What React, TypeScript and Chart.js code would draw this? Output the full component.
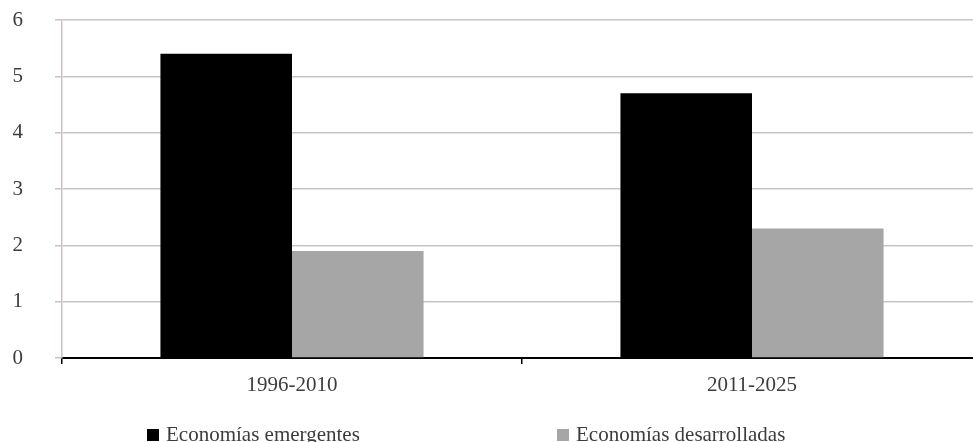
import React, { useEffect, useRef } from "react";
import { Chart, registerables } from "chart.js";

Chart.register(...registerables);

const categories = ["1996-2010", "2011-2025"];
const emergentes = [5.4, 4.7];
const desarrolladas = [1.9, 2.3];
const seriesNames = ["Economías emergentes", "Economías desarrolladas"];
const seriesColors = ["#000000", "#a6a6a6"];
const yTicks = [0, 1, 2, 3, 4, 5, 6];

const FONT = '"Liberation Serif", "Times New Roman", serif';
const TEXT = "#3c3c3c";
const GRID = "#cfc1c1";

// Bottom legend drawn as two widely spaced items
const spacedLegend = {
  id: "spacedLegend",
  afterDraw(chart: Chart) {
    const ctx = chart.ctx;
    const itemX = [147, 557];
    const baseline = 441;
    ctx.save();
    ctx.font = `21px ${FONT}`;
    ctx.textBaseline = "alphabetic";
    ctx.textAlign = "left";
    seriesNames.forEach((name, i) => {
      ctx.fillStyle = seriesColors[i];
      ctx.fillRect(itemX[i], baseline - 12, 12, 12);
      ctx.fillStyle = TEXT;
      ctx.fillText(name, itemX[i] + 19, baseline);
    });
    ctx.restore();
  },
};

export default function App() {
  const ref = useRef<HTMLCanvasElement | null>(null);

  useEffect(() => {
    if (!ref.current) return;
    const chart = new Chart(ref.current, {
      type: "bar",
      data: {
        labels: categories,
        datasets: [
          {
            label: seriesNames[0],
            data: emergentes,
            backgroundColor: seriesColors[0],
            categoryPercentage: 0.572,
            barPercentage: 1,
          },
          {
            label: seriesNames[1],
            data: desarrolladas,
            backgroundColor: seriesColors[1],
            categoryPercentage: 0.572,
            barPercentage: 1,
          },
        ],
      },
      options: {
        responsive: false,
        animation: false,
        layout: { padding: { top: 20, right: 18, bottom: 0, left: 0 } },
        plugins: {
          legend: { display: false },
          tooltip: { enabled: false },
        },
        scales: {
          x: {
            afterFit: (s: any) => {
              s.height = 84;
            },
            grid: {
              display: true,
              drawOnChartArea: false,
              offset: true,
              tickLength: 6,
              color: "#000000",
              lineWidth: 1.5,
            },
            border: { display: true, color: "#000000", width: 2 },
            ticks: {
              color: TEXT,
              font: { family: FONT, size: 21 },
              padding: 9,
              maxRotation: 0,
            },
          },
          y: {
            min: 0,
            max: 6,
            afterFit: (s: any) => {
              s.width = 62;
              s.paddingTop = 0;
              s.paddingBottom = 0;
            },
            afterBuildTicks: (s: any) => {
              s.ticks = yTicks.map((v) => ({ value: v }));
            },
            grid: {
              color: GRID,
              lineWidth: 1.5,
              tickLength: 7,
            },
            border: { display: true, color: GRID, width: 1.5 },
            ticks: {
              color: TEXT,
              font: { family: FONT, size: 21 },
              padding: 32,
            },
          },
        },
      },
      plugins: [spacedLegend],
    });
    return () => chart.destroy();
  }, []);

  return (
    <div
      style={{
        position: "absolute",
        left: 0,
        top: 0,
        width: 973,
        height: 442,
        overflow: "hidden",
        background: "#ffffff",
      }}
    >
      <canvas ref={ref} width={1000} height={442} style={{ display: "block" }} />
    </div>
  );
}
